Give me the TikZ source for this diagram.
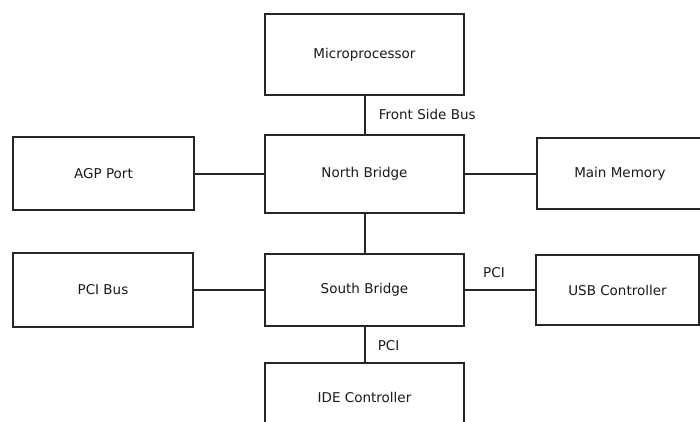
\documentclass[tikz,border=0pt]{standalone}
\usepackage{fontspec}
\setmainfont{DejaVu Sans}

\begin{document}
\begin{tikzpicture}[x=1pt,y=-1pt,
	]

	\tikzset{block/.style={
				draw=black!85,
				line width=2pt,
				rectangle,
				minimum width=199pt,
				minimum height=78pt,
				font=\fontsize{13.5}{16}\selectfont,
				text=black!90}
	}
	\tikzset{bus label/.style={
				font=\fontsize{13.5}{16}\selectfont,
				text=black!90}
	}
	\tikzset{bus/.style={draw=black!85,line width=2pt}}

	\useasboundingbox (0,0) rectangle (700,421);

	\node[block,minimum height=81pt] (micro) at (364.5,54.5) {Microprocessor};
	\node[block] (north) at (364.5,173.5) {North Bridge};
	\node[block,minimum height=72pt] (south) at (364.5,290) {South Bridge};
	\node[block,minimum height=68pt] (ide) at (364.5,397) {IDE Controller};

	\node[block,minimum width=181pt,minimum height=73pt] (agp) at (103.5,173.5) {AGP Port};
	\node[block,minimum width=180pt,minimum height=74pt] (pcibus) at (103,290) {PCI Bus};

	\node[block,minimum width=166pt,minimum height=71pt] (memory) at (620,173.5) {Main Memory};
	\node[block,minimum width=163pt,minimum height=70pt] (usb) at (617.5,290) {USB Controller};

	\draw[bus] (micro) -- node[bus label,right=10pt]{Front Side Bus} (north);
	\draw[bus] (north) -- (south);
	\draw[bus] (south) -- node[bus label,right=9pt,yshift=-1.5pt]{PCI} (ide);

	\draw[bus] (agp) -- (north);
	\draw[bus] (north) -- (north -| memory.west);

	\draw[bus] (pcibus) -- (south);
	\draw[bus] (south) -- node[bus label,above=8pt,xshift=-6pt]{PCI} (usb);

\end{tikzpicture}
\end{document}
